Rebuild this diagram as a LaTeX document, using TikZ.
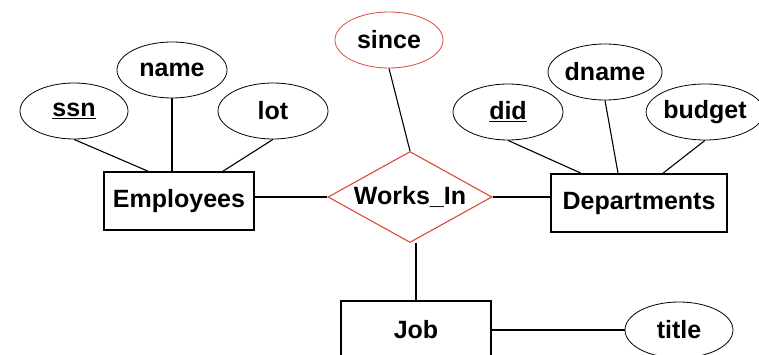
\documentclass[tikz,border=0pt]{standalone}
\usepackage{fontspec}
\setmainfont{Liberation Sans}
\usetikzlibrary{shapes.geometric}
\definecolor{relred}{RGB}{222,72,58}
\begin{document}
\begin{tikzpicture}[x=1pt,y=-1pt,font=\fontsize{25}{30}\selectfont\bfseries,
	entity/.style={draw,line width=1.6pt,minimum width=150pt,minimum height=58pt,inner sep=0pt},
	attr/.style={draw,ellipse,line width=0.8pt,minimum width=108pt,minimum height=56pt,inner sep=0pt},
	rel/.style={draw=relred,diamond,line width=1.1pt,minimum width=164pt,minimum height=91pt,inner sep=0pt},
	link/.style={line width=1.1pt}]
	\useasboundingbox (0,0) rectangle (759,355);
	\clip (0,0) rectangle (759,355);
	% entities
	\node[entity] (emp) at (179,201) {Employees};
	\node[entity,minimum width=176pt] (dept) at (639,203) {Departments};
	\node[entity] (job) at (416,330) {Job};
	% relationship
	\node[rel] (works) at (410,197) {\makebox[0pt]{Works\_In}};
	% attributes
	\node[attr] (ssn) at (74,111) {\underline{ssn}};
	\node[attr,minimum width=110pt] (name) at (172,70) {name};
	\node[attr,minimum width=110pt] (lot) at (273,111) {lot};
	\node[attr,draw=relred] (since) at (389,40) {since};
	\node[attr,minimum width=110pt] (did) at (508,112) {\underline{did}};
	\node[attr] (dname) at (605,72) {dname};
	\node[attr,minimum width=104pt] (budget) at (705,112) {budget};
	\node[attr] (title) at (679,330) {title};
	% links
	\draw[link] (ssn.south) -- ([xshift=-31pt]emp.north);
	\draw[link] (name.south) -- (name.south |- emp.north);
	\draw[link] (lot.south) -- ([xshift=44pt]emp.north);
	\draw[link] (since.south) -- (works.north);
	\draw[link] (works.west) -- (works.west -| emp.east);
	\draw[link] (works.east) -- (works.east -| dept.west);
	\draw[link] (did.south) -- ([xshift=-58pt]dept.north);
	\draw[link] (dname.south) -- ([xshift=-21pt]dept.north);
	\draw[link] (budget.south) -- ([xshift=24pt]dept.north);
	\draw[link] (job.north) -- (job.north |- works.south);
	\draw[link] (job.east) -- (title.west);
\end{tikzpicture}
\end{document}
